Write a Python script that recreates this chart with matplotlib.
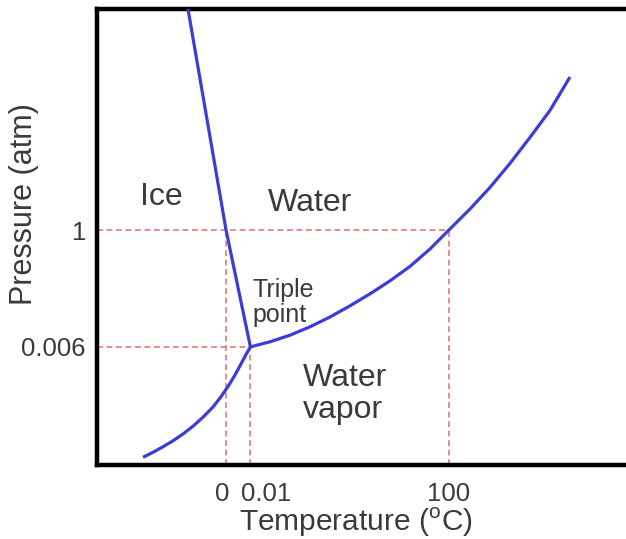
import matplotlib
matplotlib.use("Agg")
import matplotlib.pyplot as plt
import matplotlib.transforms as mtransforms

plt.rcParams['font.family'] = ['Liberation Sans', 'DejaVu Sans']
plt.rcParams['mathtext.fontset'] = 'custom'
plt.rcParams['mathtext.rm'] = 'Liberation Sans'

# schematic phase diagram of water; axes run 0-100 in arbitrary units,
# only the marked points carry real values
temp_ticks = [24.4, 29.0, 66.5]
temp_labels = ['0', '0.01', '100']
pres_ticks = [25.9, 51.5]
pres_labels = ['0.006', '1']

triple = (29.0, 25.9)
melting = (24.4, 51.5)
boiling = (66.5, 51.5)

fusion_t = [17.2, 24.4, 29.0]
fusion_p = [100.0, 51.5, 25.9]

sublim_t = [8.70, 10.59, 12.48, 14.37, 16.26, 18.15, 20.04, 21.93, 23.44,
            24.76, 26.09, 27.22, 28.17, 29.0]
sublim_p = [1.69, 2.79, 4.00, 5.31, 6.80, 8.51, 10.48, 12.72, 14.98,
            17.21, 19.74, 22.17, 24.23, 25.9]

vapor_t = [29.0, 32.70, 36.48, 40.26, 44.05, 47.83, 51.61, 55.39, 59.17,
           62.95, 66.5, 70.51, 74.29, 78.07, 81.85, 85.63, 89.41]
vapor_p = [25.9, 27.02, 28.46, 30.31, 32.46, 34.91, 37.54, 40.39, 43.55,
           47.37, 51.5, 56.14, 60.88, 66.14, 71.84, 77.76, 85.09]

text_color = '#3a3a3a'
curve_color = '#3c3cd8'
guide_color = '#e07a7a'

fig = plt.figure(figsize=(6.26, 5.39), dpi=100)
ax = fig.add_axes([97 / 626, 74 / 539, 529 / 626, 456 / 539])
ax.set_xlim(0, 100)
ax.set_ylim(0, 100)

# dashed guides from the axes to the labelled points
guide = dict(color=guide_color, lw=1.2, dashes=(3.5, 2.2), zorder=1)
ax.plot([0, boiling[0]], [boiling[1], boiling[1]], **guide)
ax.plot([0, triple[0]], [triple[1], triple[1]], **guide)
ax.plot([melting[0], melting[0]], [0, melting[1]], **guide)
ax.plot([triple[0], triple[0]], [0, triple[1]], **guide)
ax.plot([boiling[0], boiling[0]], [0, boiling[1]], **guide)

# phase boundaries
for t, p in [(fusion_t, fusion_p), (sublim_t, sublim_p), (vapor_t, vapor_p)]:
    ax.plot(t, p, color=curve_color, lw=2.3, solid_capstyle='butt',
            solid_joinstyle='round', zorder=3)

ax.text(12.1, 58.8, 'Ice', fontsize=23, color=text_color, ha='center', va='center')
ax.text(40.3, 57.5, 'Water', fontsize=23, color=text_color, ha='center', va='center')
ax.text(29.4, 35.7, 'Triple\npoint', fontsize=18, color=text_color,
        ha='left', va='center', linespacing=1.05)
ax.text(39.0, 15.6, 'Water\nvapor', fontsize=23, color=text_color,
        ha='left', va='center', linespacing=1.1)

ax.set_xticks(temp_ticks)
ax.set_xticklabels(temp_labels)
ax.set_yticks(pres_ticks)
ax.set_yticklabels(pres_labels)
ax.tick_params(length=0, labelsize=18.5, labelcolor=text_color)
ax.tick_params(axis='x', pad=12)
ax.tick_params(axis='y', pad=8)

# nudge the crowded 0 / 0.01 labels apart
shifts = [-4, 16, 0]
for lbl, dx in zip(ax.get_xticklabels(), shifts):
    lbl.set_transform(lbl.get_transform() +
                      mtransforms.ScaledTranslation(dx / 100, 0, fig.dpi_scale_trans))

ax.set_xlabel('Temperature ($^{\\mathregular{o}}$C)', fontsize=21.5, color=text_color)
ax.xaxis.set_label_coords(0.49, -0.09)
ax.set_ylabel('Pressure (atm)', fontsize=22, color=text_color)
ax.yaxis.set_label_coords(-0.11, 0.573)

for side in ['left', 'bottom', 'top']:
    ax.spines[side].set_linewidth(3.2)
    ax.spines[side].set_color('black')
ax.spines['right'].set_visible(False)

fig.savefig('out.png', dpi=100)
